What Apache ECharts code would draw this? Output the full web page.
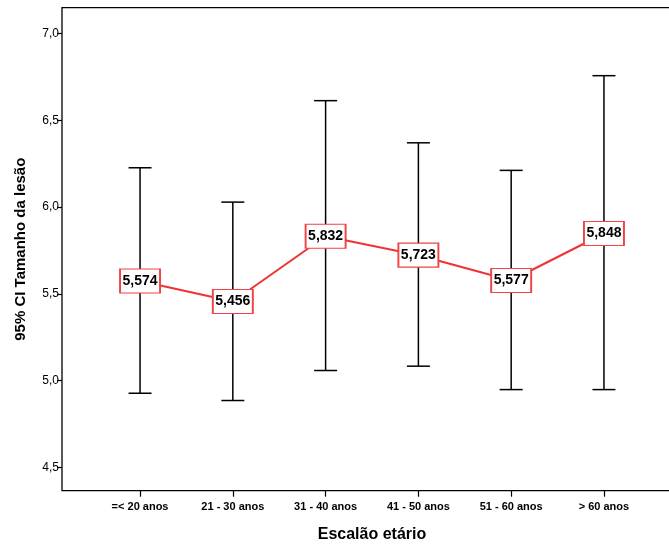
<!DOCTYPE html>
<html>
<head>
<meta charset="utf-8">
<script src="https://cdn.jsdelivr.net/npm/echarts@6/dist/echarts.min.js"></script>
<style>html,body{margin:0;padding:0;background:#fff}#c{width:669px;height:544px}</style>
</head>
<body>
<div id="c"></div>
<script>
var categories = ['=< 20 anos', '21 - 30 anos', '31 - 40 anos', '41 - 50 anos', '51 - 60 anos', '> 60 anos'];
var means = [5.574, 5.456, 5.832, 5.723, 5.577, 5.848];
var lower = [4.927, 4.885, 5.058, 5.083, 4.948, 4.948];
var upper = [6.227, 6.029, 6.614, 6.371, 6.212, 6.758];
var yTicks = [4.5, 5.0, 5.5, 6.0, 6.5, 7.0];

var chart = echarts.init(document.getElementById('c'), null, {renderer: 'canvas'});
var font = 'Liberation Sans, Arial, sans-serif';
var errData = categories.map(function (c, i) { return [i, lower[i], upper[i]]; });

chart.setOption({
  animation: false,
  backgroundColor: '#fff',
  grid: [
    {left: 93.65, right: 18.65, top: 7.7, bottom: 53.3, outerBoundsMode: 'none', containLabel: false},
    {left: 62, right: -5, top: 7.7, bottom: 53.3, show: true, borderColor: '#000', borderWidth: 1.3,
     backgroundColor: 'transparent', outerBoundsMode: 'none', containLabel: false}
  ],
  xAxis: [
    {
      type: 'category', gridIndex: 0, data: categories, boundaryGap: true,
      axisLine: {show: false},
      axisTick: {show: true, alignWithLabel: true, length: 6, lineStyle: {color: '#000', width: 1.2}},
      axisLabel: {color: '#000', fontFamily: font, fontWeight: 'bold', fontSize: 11, margin: 11, interval: 0},
      name: 'Escalão etário', nameLocation: 'middle', nameGap: 36,
      nameTextStyle: {color: '#000', fontFamily: font, fontWeight: 'bold', fontSize: 16}
    },
    {type: 'value', gridIndex: 1, show: false}
  ],
  yAxis: [
    {
      type: 'value', gridIndex: 0, min: 4.365, max: 7.15, offset: 31.65,
      splitLine: {show: false},
      axisLine: {show: false},
      axisTick: {show: true, length: 5, customValues: yTicks, lineStyle: {color: '#000', width: 1.2}},
      axisLabel: {color: '#000', fontFamily: font, fontSize: 12, margin: 3, customValues: yTicks,
        formatter: function (v) { return v.toFixed(1).replace('.', ','); }},
      name: '95% CI Tamanho da lesão', nameLocation: 'middle', nameGap: 34,
      nameTextStyle: {color: '#000', fontFamily: font, fontWeight: 'bold', fontSize: 15}
    },
    {type: 'value', gridIndex: 1, show: false}
  ],
  series: [
    {
      type: 'custom', xAxisIndex: 0, yAxisIndex: 0, data: errData, z: 2,
      renderItem: function (params, api) {
        var x = api.value(0);
        var lo = api.coord([x, api.value(1)]);
        var hi = api.coord([x, api.value(2)]);
        var hw = 11.5;
        var st = {stroke: '#000', lineWidth: 1.5};
        return {type: 'group', children: [
          {type: 'line', shape: {x1: lo[0], y1: lo[1], x2: hi[0], y2: hi[1]}, style: st},
          {type: 'line', shape: {x1: lo[0] - hw, y1: lo[1], x2: lo[0] + hw, y2: lo[1]}, style: st},
          {type: 'line', shape: {x1: hi[0] - hw, y1: hi[1], x2: hi[0] + hw, y2: hi[1]}, style: st}
        ]};
      }
    },
    {
      type: 'line', xAxisIndex: 0, yAxisIndex: 0, data: means, z: 3,
      symbol: 'none',
      lineStyle: {color: '#ee3333', width: 2}
    },
    {
      type: 'scatter', xAxisIndex: 0, yAxisIndex: 0, data: means, z: 4,
      symbol: 'rect', symbolSize: [40, 24],
      itemStyle: {color: '#fff', borderColor: '#ee4444', borderWidth: 1.5, opacity: 1},
      emphasis: {disabled: true},
      label: {
        show: true, position: 'inside', color: '#000', fontFamily: font, fontWeight: 'bold', fontSize: 14,
        formatter: function (p) { return p.value.toFixed(3).replace('.', ','); }
      }
    }
  ]
});
</script>
</body>
</html>
